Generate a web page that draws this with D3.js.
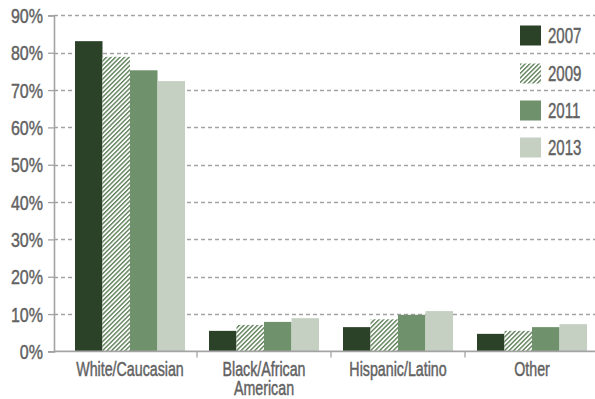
<!DOCTYPE html>
<html>
<head>
<meta charset="utf-8">
<script src="https://cdn.jsdelivr.net/npm/d3@7/dist/d3.min.js"></script>
<style>
  html, body { margin: 0; padding: 0; background: #fff; }
  svg { display: block; }
  text { font-family: "Liberation Sans", Arial, sans-serif; fill: #626262; stroke: #626262; stroke-width: 0.45; }
</style>
</head>
<body>
<svg id="chart" width="595" height="399"></svg>
<script>
// Share of respondents by race/ethnicity, per survey year
const categories = [["White/Caucasian"], ["Black/African", "American"], ["Hispanic/Latino"], ["Other"]];
const years = ["2007", "2009", "2011", "2013"];
const values2007 = [83.1, 5.5, 6.5, 4.7];
const values2009 = [78.9, 7.1, 8.6, 5.5];
const values2011 = [75.3, 7.9, 9.8, 6.5];
const values2013 = [72.4, 8.9, 10.8, 7.3];
const yTicks = [0, 10, 20, 30, 40, 50, 60, 70, 80, 90];

const series = [values2007, values2009, values2011, values2013];
const fills = ["#2b4229", "url(#hatch)", "#6f916c", "#c5d0c3"];

const W = 595, H = 399;
const svg = d3.select("#chart");
const defs = svg.append("defs");

// diagonal hatch for the 2009 series
const pat = defs.append("pattern")
  .attr("id", "hatch").attr("patternUnits", "userSpaceOnUse")
  .attr("width", 3.2).attr("height", 10)
  .attr("patternTransform", "rotate(45)");
pat.append("rect").attr("width", 3.2).attr("height", 10).attr("fill", "#fff");
pat.append("rect").attr("x", 0).attr("width", 1.4).attr("height", 10).attr("fill", "#5d7f57");

const x0 = 54, yBase = 351.4, yTop = 15.4;
const y = d3.scaleLinear().domain([0, 90]).range([yBase, yTop]);
const xBand = d3.scaleBand().domain(categories.map((c, i) => i)).range([63, 599]);
const groupPad = 12;
const xInner = d3.scaleBand().domain(years).range([groupPad, xBand.bandwidth() - groupPad]);

// dashed gridlines
svg.append("g").selectAll("line").data(yTicks.filter(d => d > 0)).join("line")
  .attr("x1", x0).attr("x2", W)
  .attr("y1", d => Math.round(y(d)) + 0.5).attr("y2", d => Math.round(y(d)) + 0.5)
  .attr("stroke", "#a3a3a3").attr("stroke-width", 1.3).attr("stroke-dasharray", "4,3");

// bars
const groups = svg.append("g").selectAll("g").data(categories).join("g")
  .attr("transform", (d, i) => `translate(${xBand(i)},0)`);
groups.selectAll("rect").data((d, i) => years.map((yr, k) => ({ yr, k, v: series[k][i] }))).join("rect")
  .attr("x", d => xInner(d.yr))
  .attr("width", xInner.bandwidth())
  .attr("y", d => y(d.v))
  .attr("height", d => yBase - y(d.v))
  .attr("fill", d => fills[d.k]);

// y axis
const yAxis = d3.axisLeft(y).tickValues(yTicks).tickSize(6).tickPadding(5).tickFormat(d => d + "%");
const gy = svg.append("g").attr("transform", `translate(${x0},0)`).call(yAxis);
gy.select(".domain").attr("stroke", "#a3a3a3").attr("stroke-width", 1.6);
gy.selectAll(".tick line").attr("stroke", "#a3a3a3").attr("stroke-width", 1.3);
gy.selectAll(".tick text")
  .attr("font-family", null).attr("font-size", 20).attr("fill", "#626262")
  .attr("x", 0).attr("dy", "0.36em")
  .attr("transform", "translate(-11,0) scale(0.8,1)");

// x axis
svg.append("line").attr("x1", x0).attr("x2", W).attr("y1", yBase).attr("y2", yBase)
  .attr("stroke", "#a3a3a3").attr("stroke-width", 1.6);
svg.append("g").selectAll("line").data([1, 2, 3]).join("line")
  .attr("x1", i => xBand(i)).attr("x2", i => xBand(i))
  .attr("y1", yBase).attr("y2", yBase + 6)
  .attr("stroke", "#a3a3a3").attr("stroke-width", 1.3);

// category labels (second line as its own text element)
const labLines = categories.flatMap((c, i) => c.map((t, j) => ({ t, i, j })));
svg.append("g").selectAll("text").data(labLines).join("text")
  .attr("transform", d => `translate(${xBand(d.i) + xBand.bandwidth() / 2},${375.5 + d.j * 19}) scale(0.73,1)`)
  .attr("text-anchor", "middle").attr("font-size", 19.5).text(d => d.t);

// legend
const leg = svg.append("g").selectAll("g").data(years).join("g")
  .attr("transform", (d, k) => `translate(520,${Math.round(y(90 - 10 * k)) + 10.5})`);
leg.append("rect").attr("width", 21).attr("height", 20).attr("fill", (d, k) => fills[k]);
leg.append("text").attr("transform", "translate(28,17.5) scale(0.7,1)")
  .attr("font-size", 21.5).text(d => d);
</script>
</body>
</html>
